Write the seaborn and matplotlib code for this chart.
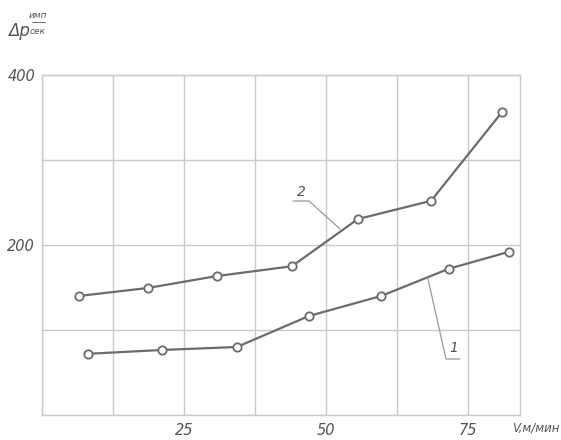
import matplotlib
matplotlib.use("Agg")
import matplotlib.pyplot as plt
import seaborn as sns
import pandas as pd
from matplotlib.lines import Line2D

sns.set_theme(style="white")
plt.rcParams["font.family"] = ["DejaVu Sans"]

# Curve 1 (lower) and curve 2 (upper): pressure pulses vs speed
speed_1 = [8.1, 21.1, 34.3, 47.0, 59.7, 71.6, 82.2]
pulses_1 = [72, 76.5, 80, 116.5, 140, 172, 192]
speed_2 = [6.5, 18.7, 30.8, 44.0, 55.6, 68.5, 81.0]
pulses_2 = [140, 149.5, 163.5, 175, 230.5, 252, 356.5]

x_ticks = [0, 12.5, 25, 37.5, 50, 62.5, 75]
x_labels = ["", "", "25", "", "50", "", "75"]
y_ticks = [0, 100, 200, 300, 400]
y_labels = ["", "", "200", "", "400"]

df = pd.concat([
    pd.DataFrame({"v": speed_1, "p": pulses_1, "curve": "1"}),
    pd.DataFrame({"v": speed_2, "p": pulses_2, "curve": "2"}),
])

line_col = "#6b6b70"
grid_col = "#c9c9ce"
text_col = "#555558"

fig = plt.figure(figsize=(5.61, 4.40), dpi=100)
ax = fig.add_axes([42 / 561, 1 - 415 / 440, (520 - 42) / 561, (415 - 75) / 440])

sns.lineplot(data=df, x="v", y="p", units="curve", estimator=None, sort=False,
             color=line_col, linewidth=1.6, marker="o", markersize=6,
             markerfacecolor="white", markeredgecolor=line_col,
             markeredgewidth=1.3, ax=ax, legend=False)

ax.set_xlim(0, 84.15)
ax.set_ylim(0, 400)
ax.set_xticks(x_ticks)
ax.set_xticklabels(x_labels)
ax.set_yticks(y_ticks)
ax.set_yticklabels(y_labels)
ax.grid(True, color=grid_col, linewidth=1.0)
ax.set_axisbelow(True)
for s in ax.spines.values():
    s.set_color(grid_col)
    s.set_linewidth(1.0)
ax.tick_params(length=0, labelsize=10.5, colors=text_col)
ax.tick_params(axis="y", pad=5)
ax.tick_params(axis="x", pad=6)
for lab in ax.get_xticklabels() + ax.get_yticklabels():
    lab.set_fontstyle("italic")
ax.set_xlabel("")
ax.set_ylabel("")

# Curve labels with leader lines (figure pixel coordinates)
def px(x, y):
    return (x / 561, 1 - y / 440)

leader = dict(color="#9a9aa0", linewidth=0.9, transform=fig.transFigure)
fig.add_artist(Line2D([293 / 561, 309 / 561, 340 / 561],
                      [1 - 201 / 440, 1 - 201 / 440, 1 - 229 / 440], **leader))
fig.text(*px(301, 192), "2", fontsize=10, style="italic", color=text_col,
         ha="center", va="center")
fig.add_artist(Line2D([428 / 561, 446 / 561, 460 / 561],
                      [1 - 279 / 440, 1 - 359 / 440, 1 - 359 / 440], **leader))
fig.text(*px(454, 348), "1", fontsize=10, style="italic", color=text_col,
         ha="center", va="center")

# Axis titles
fig.text(*px(559, 428), "V,м/мин", fontsize=8.5, style="italic",
         color=text_col, ha="right", va="center")
fig.text(*px(8, 31), "Δp", fontsize=12, style="italic", color=text_col,
         ha="left", va="center")
fig.text(*px(38, 16), "имп", fontsize=6.5, style="italic", color=text_col,
         ha="center", va="center")
fig.add_artist(Line2D([32 / 561, 45 / 561], [1 - 22 / 440, 1 - 22 / 440],
                      color=text_col, linewidth=0.6, transform=fig.transFigure))
fig.text(*px(38, 32), "сек", fontsize=6.5, style="italic", color=text_col,
         ha="center", va="center")

fig.savefig("out.png", dpi=100)
